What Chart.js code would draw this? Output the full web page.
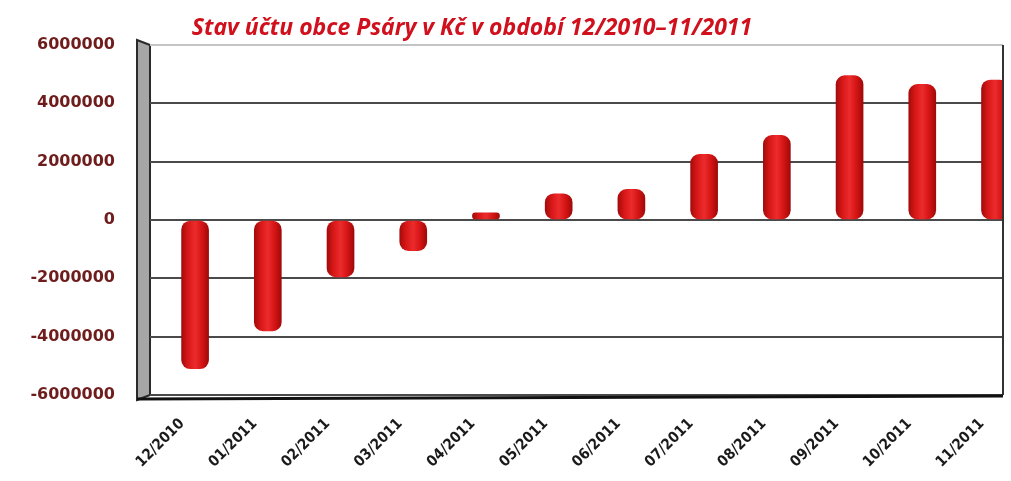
<!DOCTYPE html>
<html>
<head>
<meta charset="utf-8">
<script src="https://cdn.jsdelivr.net/npm/chart.js@4/dist/chart.umd.min.js"></script>
<style>
  html, body { margin: 0; padding: 0; background: #fff; }
  #wrap { width: 1011px; height: 481px; position: relative; }
</style>
</head>
<body>
<div id="wrap"><canvas id="chart"></canvas></div>
<script>
// data //////////////////////////////////////////////////////////////////
const months = ['12/2010', '01/2011', '02/2011', '03/2011', '04/2011', '05/2011',
  '06/2011', '07/2011', '08/2011', '09/2011', '10/2011', '11/2011'];
const balance = [-5100000, -3800000, -1950000, -1050000, 250000, 900000,
  1050000, 2250000, 2900000, 4950000, 4650000, 4800000];
const yTicks = [-6000000, -4000000, -2000000, 0, 2000000, 4000000, 6000000];
const titleText = 'Stav účtu obce Psáry v Kč v období 12/2010–11/2011';

// válcový gradient pro sloupce
function cylinder(ctx) {
  const chart = ctx.chart;
  const xs = chart.scales.x;
  if (!xs || ctx.parsed == null) return '#d41414';
  const cx = xs.getPixelForValue(ctx.parsed.x);
  if (!Number.isFinite(cx)) return '#d41414';
  const g = chart.ctx.createLinearGradient(cx - 14, 0, cx + 14, 0);
  g.addColorStop(0, '#a00a0a');
  g.addColorStop(0.25, '#d81818');
  g.addColorStop(0.5, '#ec2c2c');
  g.addColorStop(0.75, '#d41414');
  g.addColorStop(1, '#9c0808');
  return g;
}

// levá šedá stěna (3D)
const wallPlugin = {
  id: 'wall',
  beforeDraw(chart) {
    const { ctx, chartArea: a } = chart;
    ctx.save();
    ctx.beginPath();
    ctx.moveTo(a.left - 13, a.top - 5);
    ctx.lineTo(a.left, a.top);
    ctx.lineTo(a.left, a.bottom);
    ctx.lineTo(a.left - 13, a.bottom + 5);
    ctx.closePath();
    ctx.fillStyle = '#a6a6a6';
    ctx.fill();
    ctx.lineWidth = 2;
    ctx.strokeStyle = '#2a2a2a';
    ctx.stroke();
    ctx.restore();
  },
  afterDraw(chart) {
    const { ctx, chartArea: a } = chart;
    ctx.save();
    ctx.strokeStyle = '#333';
    ctx.lineWidth = 2;
    ctx.beginPath();
    ctx.moveTo(a.right, a.top);
    ctx.lineTo(a.right, a.bottom);
    ctx.stroke();
    ctx.lineWidth = 3;
    ctx.strokeStyle = '#111';
    ctx.beginPath();
    ctx.moveTo(a.left - 13, a.bottom + 4);
    ctx.lineTo(a.right, a.bottom + 1);
    ctx.stroke();
    ctx.restore();
  },
};

// nadpis
const titlePlugin = {
  id: 'customTitle',
  afterDraw(chart) {
    const { ctx } = chart;
    ctx.save();
    ctx.font = 'italic bold 23px "Open Sans"';
    ctx.fillStyle = '#d0101c';
    ctx.textAlign = 'center';
    ctx.textBaseline = 'middle';
    ctx.fillText(titleText, 472, 28);
    ctx.restore();
  },
};

new Chart(document.getElementById('chart'), {
  type: 'bar',
  data: {
    datasets: [{
      label: 'Stav účtu',
      data: balance.map((v, i) => ({ x: i, y: v })),
      backgroundColor: cylinder,
      borderRadius: 9,
      borderSkipped: false,
      barThickness: 27,
    }],
  },
  options: {
    responsive: true,
    maintainAspectRatio: false,
    animation: false,
    layout: { padding: { top: 45, right: 8, left: 0, bottom: 0 } },
    scales: {
      x: {
        type: 'linear',
        min: -0.62,
        max: 11.11,
        offset: false,
        border: { display: false },
        grid: { display: false, drawTicks: false },
        afterFit: (s) => {
          s.height = 86;
          s.paddingLeft = 0;
          s.paddingRight = 0;
        },
        ticks: {
          stepSize: 1,
          includeBounds: false,
          autoSkip: false,
          maxRotation: 45,
          minRotation: 45,
          padding: 20,
          labelOffset: -13,
          color: '#1a1a1a',
          font: { family: 'DejaVu Sans Condensed', weight: 'bold', size: 15 },
          callback: (v) => (Number.isInteger(v) ? months[v] : ''),
        },
      },
      y: {
        min: yTicks[0],
        max: yTicks[yTicks.length - 1],
        border: { display: false },
        afterFit: (s) => { s.width = 150; },
        afterBuildTicks: (s) => { s.ticks = yTicks.map((v) => ({ value: v })); },
        grid: {
          drawTicks: false,
          color: (c) => (c.tick && c.tick.value === 6000000 ? '#c4c4c4' : '#4a4a4a'),
          lineWidth: 2,
        },
        ticks: {
          padding: 35,
          color: '#6e1c1c',
          font: { family: 'DejaVu Sans', weight: 'bold', size: 16 },
          callback: (v) => String(v),
        },
      },
    },
    plugins: {
      legend: { display: false },
      tooltip: { enabled: false },
      title: { display: false },
    },
  },
  plugins: [wallPlugin, titlePlugin],
});
</script>
</body>
</html>
